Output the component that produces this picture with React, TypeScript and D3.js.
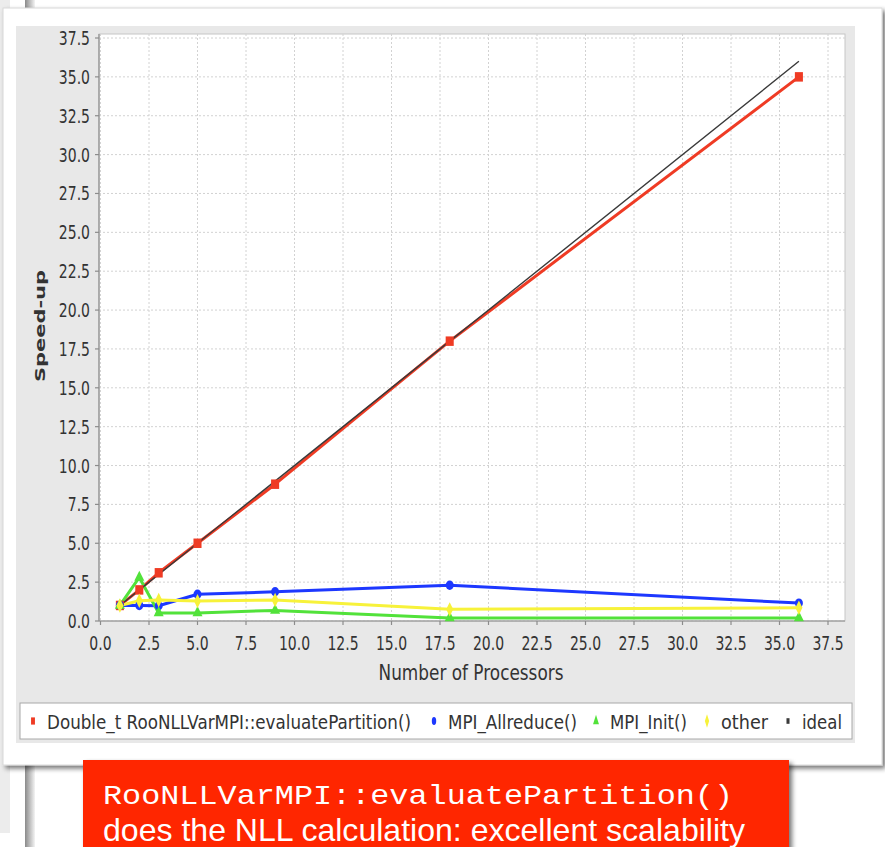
import React from 'react';
import * as d3 from 'd3';

// number of processors (x) and measured speed-ups per series
const procs = [1, 2, 3, 5, 9, 18, 36];
const evalPartition = [1.0, 2.0, 3.1, 5.0, 8.8, 18.0, 35.0];
const allreduce = [1.0, 1.0, 0.98, 1.72, 1.88, 2.3, 1.15];
const mpiInit = [1.0, 2.8, 0.52, 0.52, 0.68, 0.2, 0.2];
const other = [1.0, 1.3, 1.35, 1.28, 1.35, 0.75, 0.85];
const ideal = [1, 2, 3, 5, 9, 18, 36];

const seriesNames = [
  'Double_t RooNLLVarMPI::evaluatePartition()',
  'MPI_Allreduce()',
  'MPI_Init()',
  'other',
  'ideal',
];
const tickValues = [0, 2.5, 5, 7.5, 10, 12.5, 15, 17.5, 20, 22.5, 25, 27.5, 30, 32.5, 35, 37.5];
const xTitle = 'Number of Processors';
const yTitle = 'Speed-up';
const note1 = 'RooNLLVarMPI::evaluatePartition()';
const note2 = 'does the NLL calculation: excellent scalability';

const W = 885;
const H = 847;
const SANS = 'DejaVu Sans, sans-serif';

export default function App() {
  const x = d3.scaleLinear().domain([0, 37.5]).range([100.5, 828]);
  const y = d3.scaleLinear().domain([0, 37.5]).range([621, 38]);
  const plot = { left: 99, right: 845, top: 34, bottom: 621 };

  const series = [
    { name: seriesNames[0], values: evalPartition, color: '#ef3b24', symbol: d3.symbolSquare, size: 90, lw: 3 },
    { name: seriesNames[1], values: allreduce, color: '#1d38ff', symbol: d3.symbolCircle, size: 70, lw: 3 },
    { name: seriesNames[2], values: mpiInit, color: '#52e23a', symbol: d3.symbolTriangle, size: 60, lw: 3 },
    { name: seriesNames[3], values: other, color: '#f7f23a', symbol: d3.symbolDiamond, size: 60, lw: 3 },
    { name: seriesNames[4], values: ideal, color: '#3a3a3a', symbol: null, size: 0, lw: 1.4 },
  ];

  const line = d3.line<number>()
    .x((_, i) => x(procs[i]))
    .y(d => y(d));

  // legend layout: marker x and label width
  const legendX = [33, 434, 596, 707, 788];
  const legendW = [364, 129, 77, 47, 40];
  const legendSym = [d3.symbolSquare, d3.symbolCircle, d3.symbolTriangle, d3.symbolDiamond, d3.symbolSquare];

  return (
    <svg width={W} height={H} style={{ position: 'absolute', left: 0, top: 0 }}>
      <defs>
        <filter id="shadow" x="-5%" y="-5%" width="110%" height="115%">
          <feGaussianBlur in="SourceAlpha" stdDeviation="2.5" />
          <feOffset dx="3" dy="3" result="b" />
          <feComponentTransfer><feFuncA type="linear" slope="0.55" /></feComponentTransfer>
          <feMerge><feMergeNode /><feMergeNode in="SourceGraphic" /></feMerge>
        </filter>
        <linearGradient id="bar" x1="0" x2="1" y1="0" y2="0">
          <stop offset="0" stopColor="#8a8a8a" />
          <stop offset="1" stopColor="#f4f4f4" />
        </linearGradient>
      </defs>
      <rect width={W} height={H} fill="#fff" />
      <rect x={0} y={0} width={10} height={833} fill="#ececec" />
      <rect x={25} y={0} width={10} height={H} fill="url(#bar)" />

      {/* card */}
      <rect x={3} y={8} width={879} height={757} fill="#fff" stroke="#d8d8d8" filter="url(#shadow)" />
      <rect x={16} y={26} width={839} height={717} fill="#e8e8e8" />
      <rect x={plot.left} y={plot.top} width={plot.right - plot.left} height={plot.bottom - plot.top}
        fill="#fff" stroke="#c6c6c6" />

      {/* grid */}
      <g stroke="#d2d2d2" strokeDasharray="2,2" strokeWidth={1}>
        {tickValues.map(v => (
          <line key={'gy' + v} x1={plot.left} x2={plot.right} y1={y(v)} y2={y(v)} />
        ))}
        {tickValues.map(v => (
          <line key={'gx' + v} x1={x(v)} x2={x(v)} y1={plot.top} y2={plot.bottom} />
        ))}
      </g>

      {/* axes */}
      <g stroke="#8c8c8c" strokeWidth={1.2}>
        <line x1={plot.left} x2={plot.left} y1={plot.top} y2={plot.bottom} />
        <line x1={plot.left} x2={plot.right} y1={plot.bottom} y2={plot.bottom} />
        {tickValues.map(v => (
          <line key={'ty' + v} x1={plot.left - 4} x2={plot.left} y1={y(v)} y2={y(v)} />
        ))}
        {tickValues.map(v => (
          <line key={'tx' + v} x1={x(v)} x2={x(v)} y1={plot.bottom} y2={plot.bottom + 4} />
        ))}
      </g>
      <g fontFamily={SANS} fontSize={20} fill="#333">
        {tickValues.map(v => (
          <text key={'ly' + v} textAnchor="end"
            transform={`translate(90,${y(v) + 7}) scale(0.7,1)`}>{v.toFixed(1)}</text>
        ))}
        {tickValues.map(v => (
          <text key={'lx' + v} textAnchor="middle"
            transform={`translate(${x(v)},650) scale(0.7,1)`}>{v.toFixed(1)}</text>
        ))}
      </g>
      <text x={471} y={680} textAnchor="middle" fontFamily={SANS} fontSize={21} fill="#333"
        textLength={185} lengthAdjust="spacingAndGlyphs">{xTitle}</text>
      <text transform="translate(45,326) rotate(-90) scale(1,0.8)" textAnchor="middle"
        fontFamily={SANS} fontSize={17} fontWeight="bold" fill="#333"
        textLength={112} lengthAdjust="spacingAndGlyphs">{yTitle}</text>

      {/* series lines, then markers */}
      <g fill="none" strokeLinejoin="round">
        {series.map(s => (
          <path key={'l' + s.name} d={line(s.values) || ''} stroke={s.color} strokeWidth={s.lw} />
        ))}
      </g>
      {series.filter(s => s.symbol).map(s => (
        <g key={'m' + s.name} fill={s.color}>
          {s.values.map((v, i) => (
            <path key={i} d={d3.symbol(s.symbol as d3.SymbolType, s.size)() || ''}
              transform={`translate(${x(procs[i])},${y(v)}) scale(0.85,1)`} />
          ))}
        </g>
      ))}

      {/* legend */}
      <rect x={20} y={703} width={832} height={36} fill="#fff" stroke="#a8a8a8" />
      <g fontFamily={SANS} fontSize={19} fill="#333">
        {series.map((s, i) => (
          <g key={'lg' + s.name}>
            <path d={d3.symbol(legendSym[i], i === 4 ? 22 : 36)() || ''} fill={s.color}
              transform={`translate(${legendX[i]},${721}) scale(0.65,1.2)`} />
            <text x={legendX[i] + 14} y={729} textLength={legendW[i]}
              lengthAdjust="spacingAndGlyphs">{s.name}</text>
          </g>
        ))}
      </g>

      {/* annotation box */}
      <rect x={83} y={760} width={706} height={100} fill="#ff2800" filter="url(#shadow)" />
      <text x={103} y={804} fontFamily="Liberation Mono, monospace" fontSize={28} fill="#fff"
        textLength={630} lengthAdjust="spacingAndGlyphs">{note1}</text>
      <text x={103} y={841} fontFamily="Liberation Sans, Arial, sans-serif" fontSize={32} fill="#fff"
        textLength={642} lengthAdjust="spacingAndGlyphs">{note2}</text>
    </svg>
  );
}
